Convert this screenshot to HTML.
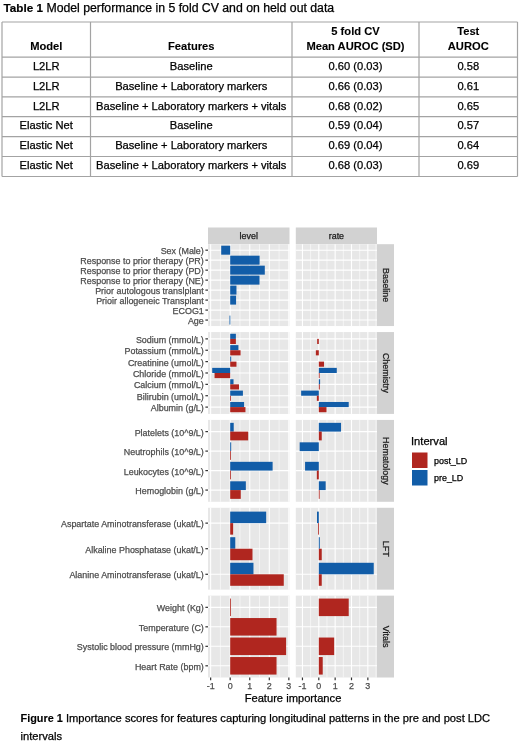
<!DOCTYPE html>
<html><head><meta charset="utf-8"><title>Table 1 and Figure 1</title>
<style>
html,body{margin:0;padding:0;background:#fff;}
body{width:520px;height:742px;overflow:hidden;font-family:"Liberation Sans", sans-serif;}
svg{display:block;font-family:"Liberation Sans", sans-serif;}
</style></head><body>
<svg width="520" height="742" viewBox="0 0 520 742" style="will-change:transform">
<rect x="0" y="0" width="520" height="742" fill="#fff"/>
<text x="3.60" y="12.30" font-size="12.28" fill="#000" stroke="#000" stroke-width="0.25" text-anchor="start"><tspan font-weight="bold" font-size="11.7" stroke-width="0.2">Table 1</tspan> Model performance in 5 fold CV and on held out data</text>
<line x1="2.00" y1="22.00" x2="2.00" y2="176.50" stroke="#A3A3A3" stroke-width="1.2"/>
<line x1="90.50" y1="22.00" x2="90.50" y2="176.50" stroke="#A3A3A3" stroke-width="1.2"/>
<line x1="292.00" y1="22.00" x2="292.00" y2="176.50" stroke="#A3A3A3" stroke-width="1.2"/>
<line x1="419.00" y1="22.00" x2="419.00" y2="176.50" stroke="#A3A3A3" stroke-width="1.2"/>
<line x1="517.50" y1="22.00" x2="517.50" y2="176.50" stroke="#A3A3A3" stroke-width="1.2"/>
<line x1="2.00" y1="22.00" x2="517.50" y2="22.00" stroke="#A3A3A3" stroke-width="1.2"/>
<line x1="2.00" y1="57.20" x2="517.50" y2="57.20" stroke="#A3A3A3" stroke-width="1.2"/>
<line x1="2.00" y1="77.20" x2="517.50" y2="77.20" stroke="#A3A3A3" stroke-width="1.2"/>
<line x1="2.00" y1="96.90" x2="517.50" y2="96.90" stroke="#A3A3A3" stroke-width="1.2"/>
<line x1="2.00" y1="116.70" x2="517.50" y2="116.70" stroke="#A3A3A3" stroke-width="1.2"/>
<line x1="2.00" y1="136.60" x2="517.50" y2="136.60" stroke="#A3A3A3" stroke-width="1.2"/>
<line x1="2.00" y1="156.50" x2="517.50" y2="156.50" stroke="#A3A3A3" stroke-width="1.2"/>
<line x1="2.00" y1="176.50" x2="517.50" y2="176.50" stroke="#A3A3A3" stroke-width="1.2"/>
<text x="46.25" y="49.80" font-size="11.17" fill="#000" stroke="#000" stroke-width="0.1" text-anchor="middle" font-weight="bold">Model</text>
<text x="191.25" y="49.80" font-size="11.17" fill="#000" stroke="#000" stroke-width="0.1" text-anchor="middle" font-weight="bold">Features</text>
<text x="355.50" y="34.60" font-size="11.17" fill="#000" stroke="#000" stroke-width="0.1" text-anchor="middle" font-weight="bold">5 fold CV</text>
<text x="355.50" y="49.80" font-size="11.17" fill="#000" stroke="#000" stroke-width="0.1" text-anchor="middle" font-weight="bold">Mean AUROC (SD)</text>
<text x="468.25" y="34.60" font-size="11.17" fill="#000" stroke="#000" stroke-width="0.1" text-anchor="middle" font-weight="bold">Test</text>
<text x="468.25" y="49.80" font-size="11.17" fill="#000" stroke="#000" stroke-width="0.1" text-anchor="middle" font-weight="bold">AUROC</text>
<text x="46.25" y="69.80" font-size="11.17" fill="#000" stroke="#000" stroke-width="0.25" text-anchor="middle">L2LR</text>
<text x="191.25" y="69.80" font-size="11.17" fill="#000" stroke="#000" stroke-width="0.25" text-anchor="middle">Baseline</text>
<text x="355.50" y="69.80" font-size="11.17" fill="#000" stroke="#000" stroke-width="0.25" text-anchor="middle">0.60 (0.03)</text>
<text x="468.25" y="69.80" font-size="11.17" fill="#000" stroke="#000" stroke-width="0.25" text-anchor="middle">0.58</text>
<text x="46.25" y="89.80" font-size="11.17" fill="#000" stroke="#000" stroke-width="0.25" text-anchor="middle">L2LR</text>
<text x="191.25" y="89.80" font-size="11.17" fill="#000" stroke="#000" stroke-width="0.25" text-anchor="middle">Baseline + Laboratory markers</text>
<text x="355.50" y="89.80" font-size="11.17" fill="#000" stroke="#000" stroke-width="0.25" text-anchor="middle">0.66 (0.03)</text>
<text x="468.25" y="89.80" font-size="11.17" fill="#000" stroke="#000" stroke-width="0.25" text-anchor="middle">0.61</text>
<text x="46.25" y="109.50" font-size="11.17" fill="#000" stroke="#000" stroke-width="0.25" text-anchor="middle">L2LR</text>
<text x="191.25" y="109.50" font-size="11.17" fill="#000" stroke="#000" stroke-width="0.25" text-anchor="middle">Baseline + Laboratory markers + vitals</text>
<text x="355.50" y="109.50" font-size="11.17" fill="#000" stroke="#000" stroke-width="0.25" text-anchor="middle">0.68 (0.02)</text>
<text x="468.25" y="109.50" font-size="11.17" fill="#000" stroke="#000" stroke-width="0.25" text-anchor="middle">0.65</text>
<text x="46.25" y="129.30" font-size="11.17" fill="#000" stroke="#000" stroke-width="0.25" text-anchor="middle">Elastic Net</text>
<text x="191.25" y="129.30" font-size="11.17" fill="#000" stroke="#000" stroke-width="0.25" text-anchor="middle">Baseline</text>
<text x="355.50" y="129.30" font-size="11.17" fill="#000" stroke="#000" stroke-width="0.25" text-anchor="middle">0.59 (0.04)</text>
<text x="468.25" y="129.30" font-size="11.17" fill="#000" stroke="#000" stroke-width="0.25" text-anchor="middle">0.57</text>
<text x="46.25" y="149.20" font-size="11.17" fill="#000" stroke="#000" stroke-width="0.25" text-anchor="middle">Elastic Net</text>
<text x="191.25" y="149.20" font-size="11.17" fill="#000" stroke="#000" stroke-width="0.25" text-anchor="middle">Baseline + Laboratory markers</text>
<text x="355.50" y="149.20" font-size="11.17" fill="#000" stroke="#000" stroke-width="0.25" text-anchor="middle">0.69 (0.04)</text>
<text x="468.25" y="149.20" font-size="11.17" fill="#000" stroke="#000" stroke-width="0.25" text-anchor="middle">0.64</text>
<text x="46.25" y="169.10" font-size="11.17" fill="#000" stroke="#000" stroke-width="0.25" text-anchor="middle">Elastic Net</text>
<text x="191.25" y="169.10" font-size="11.17" fill="#000" stroke="#000" stroke-width="0.25" text-anchor="middle">Baseline + Laboratory markers + vitals</text>
<text x="355.50" y="169.10" font-size="11.17" fill="#000" stroke="#000" stroke-width="0.25" text-anchor="middle">0.68 (0.03)</text>
<text x="468.25" y="169.10" font-size="11.17" fill="#000" stroke="#000" stroke-width="0.25" text-anchor="middle">0.69</text>
<rect x="208.00" y="244.20" width="81.50" height="81.86" fill="#E7E7E7"/>
<line x1="220.42" y1="244.20" x2="220.42" y2="326.06" stroke="#FFFFFF" stroke-width="0.55"/>
<line x1="239.97" y1="244.20" x2="239.97" y2="326.06" stroke="#FFFFFF" stroke-width="0.55"/>
<line x1="259.52" y1="244.20" x2="259.52" y2="326.06" stroke="#FFFFFF" stroke-width="0.55"/>
<line x1="279.07" y1="244.20" x2="279.07" y2="326.06" stroke="#FFFFFF" stroke-width="0.55"/>
<line x1="210.65" y1="244.20" x2="210.65" y2="326.06" stroke="#FFFFFF" stroke-width="1.1"/>
<line x1="230.20" y1="244.20" x2="230.20" y2="326.06" stroke="#FFFFFF" stroke-width="1.1"/>
<line x1="249.75" y1="244.20" x2="249.75" y2="326.06" stroke="#FFFFFF" stroke-width="1.1"/>
<line x1="269.30" y1="244.20" x2="269.30" y2="326.06" stroke="#FFFFFF" stroke-width="1.1"/>
<line x1="288.85" y1="244.20" x2="288.85" y2="326.06" stroke="#FFFFFF" stroke-width="1.1"/>
<line x1="208.00" y1="250.19" x2="289.50" y2="250.19" stroke="#FFFFFF" stroke-width="1.1"/>
<line x1="208.00" y1="260.17" x2="289.50" y2="260.17" stroke="#FFFFFF" stroke-width="1.1"/>
<line x1="208.00" y1="270.16" x2="289.50" y2="270.16" stroke="#FFFFFF" stroke-width="1.1"/>
<line x1="208.00" y1="280.14" x2="289.50" y2="280.14" stroke="#FFFFFF" stroke-width="1.1"/>
<line x1="208.00" y1="290.12" x2="289.50" y2="290.12" stroke="#FFFFFF" stroke-width="1.1"/>
<line x1="208.00" y1="300.10" x2="289.50" y2="300.10" stroke="#FFFFFF" stroke-width="1.1"/>
<line x1="208.00" y1="310.09" x2="289.50" y2="310.09" stroke="#FFFFFF" stroke-width="1.1"/>
<line x1="208.00" y1="320.07" x2="289.50" y2="320.07" stroke="#FFFFFF" stroke-width="1.1"/>
<rect x="221.21" y="245.70" width="8.99" height="8.98" fill="#125DA8"/>
<rect x="230.20" y="255.68" width="29.40" height="8.98" fill="#125DA8"/>
<rect x="230.20" y="265.66" width="34.60" height="8.98" fill="#125DA8"/>
<rect x="230.20" y="275.65" width="29.32" height="8.98" fill="#125DA8"/>
<rect x="230.20" y="285.63" width="6.26" height="8.98" fill="#125DA8"/>
<rect x="230.20" y="295.61" width="5.87" height="8.98" fill="#125DA8"/>
<rect x="229.51" y="315.58" width="0.80" height="8.98" fill="#125DA8"/>
<rect x="295.80" y="244.20" width="81.20" height="81.86" fill="#E7E7E7"/>
<line x1="310.62" y1="244.20" x2="310.62" y2="326.06" stroke="#FFFFFF" stroke-width="0.55"/>
<line x1="326.98" y1="244.20" x2="326.98" y2="326.06" stroke="#FFFFFF" stroke-width="0.55"/>
<line x1="343.32" y1="244.20" x2="343.32" y2="326.06" stroke="#FFFFFF" stroke-width="0.55"/>
<line x1="359.68" y1="244.20" x2="359.68" y2="326.06" stroke="#FFFFFF" stroke-width="0.55"/>
<line x1="376.03" y1="244.20" x2="376.03" y2="326.06" stroke="#FFFFFF" stroke-width="0.55"/>
<line x1="302.45" y1="244.20" x2="302.45" y2="326.06" stroke="#FFFFFF" stroke-width="1.1"/>
<line x1="318.80" y1="244.20" x2="318.80" y2="326.06" stroke="#FFFFFF" stroke-width="1.1"/>
<line x1="335.15" y1="244.20" x2="335.15" y2="326.06" stroke="#FFFFFF" stroke-width="1.1"/>
<line x1="351.50" y1="244.20" x2="351.50" y2="326.06" stroke="#FFFFFF" stroke-width="1.1"/>
<line x1="367.85" y1="244.20" x2="367.85" y2="326.06" stroke="#FFFFFF" stroke-width="1.1"/>
<line x1="295.80" y1="250.19" x2="377.00" y2="250.19" stroke="#FFFFFF" stroke-width="1.1"/>
<line x1="295.80" y1="260.17" x2="377.00" y2="260.17" stroke="#FFFFFF" stroke-width="1.1"/>
<line x1="295.80" y1="270.16" x2="377.00" y2="270.16" stroke="#FFFFFF" stroke-width="1.1"/>
<line x1="295.80" y1="280.14" x2="377.00" y2="280.14" stroke="#FFFFFF" stroke-width="1.1"/>
<line x1="295.80" y1="290.12" x2="377.00" y2="290.12" stroke="#FFFFFF" stroke-width="1.1"/>
<line x1="295.80" y1="300.10" x2="377.00" y2="300.10" stroke="#FFFFFF" stroke-width="1.1"/>
<line x1="295.80" y1="310.09" x2="377.00" y2="310.09" stroke="#FFFFFF" stroke-width="1.1"/>
<line x1="295.80" y1="320.07" x2="377.00" y2="320.07" stroke="#FFFFFF" stroke-width="1.1"/>
<line x1="205.40" y1="250.19" x2="208.00" y2="250.19" stroke="#333333" stroke-width="1.2"/>
<text x="203.80" y="254.09" font-size="8.93" fill="#4D4D4D" stroke="#4D4D4D" stroke-width="0.25" text-anchor="end">Sex (Male)</text>
<line x1="205.40" y1="260.17" x2="208.00" y2="260.17" stroke="#333333" stroke-width="1.2"/>
<text x="203.80" y="264.07" font-size="8.93" fill="#4D4D4D" stroke="#4D4D4D" stroke-width="0.25" text-anchor="end">Response to prior therapy (PR)</text>
<line x1="205.40" y1="270.16" x2="208.00" y2="270.16" stroke="#333333" stroke-width="1.2"/>
<text x="203.80" y="274.06" font-size="8.93" fill="#4D4D4D" stroke="#4D4D4D" stroke-width="0.25" text-anchor="end">Response to prior therapy (PD)</text>
<line x1="205.40" y1="280.14" x2="208.00" y2="280.14" stroke="#333333" stroke-width="1.2"/>
<text x="203.80" y="284.04" font-size="8.93" fill="#4D4D4D" stroke="#4D4D4D" stroke-width="0.25" text-anchor="end">Response to prior therapy (NE)</text>
<line x1="205.40" y1="290.12" x2="208.00" y2="290.12" stroke="#333333" stroke-width="1.2"/>
<text x="203.80" y="294.02" font-size="8.93" fill="#4D4D4D" stroke="#4D4D4D" stroke-width="0.25" text-anchor="end">Prior autologous translplant</text>
<line x1="205.40" y1="300.10" x2="208.00" y2="300.10" stroke="#333333" stroke-width="1.2"/>
<text x="203.80" y="304.00" font-size="8.93" fill="#4D4D4D" stroke="#4D4D4D" stroke-width="0.25" text-anchor="end">Prioir allogeneic Transplant</text>
<line x1="205.40" y1="310.09" x2="208.00" y2="310.09" stroke="#333333" stroke-width="1.2"/>
<text x="203.80" y="313.99" font-size="8.93" fill="#4D4D4D" stroke="#4D4D4D" stroke-width="0.25" text-anchor="end">ECOG1</text>
<line x1="205.40" y1="320.07" x2="208.00" y2="320.07" stroke="#333333" stroke-width="1.2"/>
<text x="203.80" y="323.97" font-size="8.93" fill="#4D4D4D" stroke="#4D4D4D" stroke-width="0.25" text-anchor="end">Age</text>
<rect x="377.00" y="244.20" width="17.00" height="81.86" fill="#D2D2D2"/>
<text x="0" y="0" font-size="8.93" fill="#1A1A1A" stroke="#1A1A1A" stroke-width="0.25" text-anchor="middle" transform="translate(382.90,285.13) rotate(90)">Baseline</text>
<rect x="208.00" y="332.06" width="81.50" height="81.86" fill="#E7E7E7"/>
<line x1="220.42" y1="332.06" x2="220.42" y2="413.92" stroke="#FFFFFF" stroke-width="0.55"/>
<line x1="239.97" y1="332.06" x2="239.97" y2="413.92" stroke="#FFFFFF" stroke-width="0.55"/>
<line x1="259.52" y1="332.06" x2="259.52" y2="413.92" stroke="#FFFFFF" stroke-width="0.55"/>
<line x1="279.07" y1="332.06" x2="279.07" y2="413.92" stroke="#FFFFFF" stroke-width="0.55"/>
<line x1="210.65" y1="332.06" x2="210.65" y2="413.92" stroke="#FFFFFF" stroke-width="1.1"/>
<line x1="230.20" y1="332.06" x2="230.20" y2="413.92" stroke="#FFFFFF" stroke-width="1.1"/>
<line x1="249.75" y1="332.06" x2="249.75" y2="413.92" stroke="#FFFFFF" stroke-width="1.1"/>
<line x1="269.30" y1="332.06" x2="269.30" y2="413.92" stroke="#FFFFFF" stroke-width="1.1"/>
<line x1="288.85" y1="332.06" x2="288.85" y2="413.92" stroke="#FFFFFF" stroke-width="1.1"/>
<line x1="208.00" y1="338.88" x2="289.50" y2="338.88" stroke="#FFFFFF" stroke-width="1.1"/>
<line x1="208.00" y1="350.25" x2="289.50" y2="350.25" stroke="#FFFFFF" stroke-width="1.1"/>
<line x1="208.00" y1="361.62" x2="289.50" y2="361.62" stroke="#FFFFFF" stroke-width="1.1"/>
<line x1="208.00" y1="372.99" x2="289.50" y2="372.99" stroke="#FFFFFF" stroke-width="1.1"/>
<line x1="208.00" y1="384.36" x2="289.50" y2="384.36" stroke="#FFFFFF" stroke-width="1.1"/>
<line x1="208.00" y1="395.73" x2="289.50" y2="395.73" stroke="#FFFFFF" stroke-width="1.1"/>
<line x1="208.00" y1="407.10" x2="289.50" y2="407.10" stroke="#FFFFFF" stroke-width="1.1"/>
<rect x="230.20" y="333.77" width="5.67" height="5.12" fill="#125DA8"/>
<rect x="230.20" y="338.88" width="5.67" height="5.12" fill="#B0261F"/>
<rect x="230.20" y="345.13" width="8.21" height="5.12" fill="#125DA8"/>
<rect x="230.20" y="350.25" width="10.36" height="5.12" fill="#B0261F"/>
<rect x="230.20" y="356.50" width="0.98" height="5.12" fill="#125DA8"/>
<rect x="230.20" y="361.62" width="6.26" height="5.12" fill="#B0261F"/>
<rect x="212.21" y="367.87" width="17.99" height="5.12" fill="#125DA8"/>
<rect x="214.56" y="372.99" width="15.64" height="5.12" fill="#B0261F"/>
<rect x="230.20" y="379.24" width="3.32" height="5.12" fill="#125DA8"/>
<rect x="230.20" y="384.36" width="8.80" height="5.12" fill="#B0261F"/>
<rect x="230.20" y="390.61" width="12.71" height="5.12" fill="#125DA8"/>
<rect x="230.09" y="395.73" width="0.80" height="5.12" fill="#B0261F"/>
<rect x="230.20" y="401.98" width="13.88" height="5.12" fill="#125DA8"/>
<rect x="230.20" y="407.10" width="15.25" height="5.12" fill="#B0261F"/>
<rect x="295.80" y="332.06" width="81.20" height="81.86" fill="#E7E7E7"/>
<line x1="310.62" y1="332.06" x2="310.62" y2="413.92" stroke="#FFFFFF" stroke-width="0.55"/>
<line x1="326.98" y1="332.06" x2="326.98" y2="413.92" stroke="#FFFFFF" stroke-width="0.55"/>
<line x1="343.32" y1="332.06" x2="343.32" y2="413.92" stroke="#FFFFFF" stroke-width="0.55"/>
<line x1="359.68" y1="332.06" x2="359.68" y2="413.92" stroke="#FFFFFF" stroke-width="0.55"/>
<line x1="376.03" y1="332.06" x2="376.03" y2="413.92" stroke="#FFFFFF" stroke-width="0.55"/>
<line x1="302.45" y1="332.06" x2="302.45" y2="413.92" stroke="#FFFFFF" stroke-width="1.1"/>
<line x1="318.80" y1="332.06" x2="318.80" y2="413.92" stroke="#FFFFFF" stroke-width="1.1"/>
<line x1="335.15" y1="332.06" x2="335.15" y2="413.92" stroke="#FFFFFF" stroke-width="1.1"/>
<line x1="351.50" y1="332.06" x2="351.50" y2="413.92" stroke="#FFFFFF" stroke-width="1.1"/>
<line x1="367.85" y1="332.06" x2="367.85" y2="413.92" stroke="#FFFFFF" stroke-width="1.1"/>
<line x1="295.80" y1="338.88" x2="377.00" y2="338.88" stroke="#FFFFFF" stroke-width="1.1"/>
<line x1="295.80" y1="350.25" x2="377.00" y2="350.25" stroke="#FFFFFF" stroke-width="1.1"/>
<line x1="295.80" y1="361.62" x2="377.00" y2="361.62" stroke="#FFFFFF" stroke-width="1.1"/>
<line x1="295.80" y1="372.99" x2="377.00" y2="372.99" stroke="#FFFFFF" stroke-width="1.1"/>
<line x1="295.80" y1="384.36" x2="377.00" y2="384.36" stroke="#FFFFFF" stroke-width="1.1"/>
<line x1="295.80" y1="395.73" x2="377.00" y2="395.73" stroke="#FFFFFF" stroke-width="1.1"/>
<line x1="295.80" y1="407.10" x2="377.00" y2="407.10" stroke="#FFFFFF" stroke-width="1.1"/>
<rect x="317.17" y="338.88" width="1.63" height="5.12" fill="#B0261F"/>
<rect x="315.86" y="350.25" width="2.94" height="5.12" fill="#B0261F"/>
<rect x="318.80" y="361.62" width="5.23" height="5.12" fill="#B0261F"/>
<rect x="318.80" y="367.87" width="17.99" height="5.12" fill="#125DA8"/>
<rect x="318.80" y="372.99" width="0.82" height="5.12" fill="#B0261F"/>
<rect x="318.80" y="379.24" width="1.31" height="5.12" fill="#125DA8"/>
<rect x="318.80" y="384.36" width="0.98" height="5.12" fill="#B0261F"/>
<rect x="301.14" y="390.61" width="17.66" height="5.12" fill="#125DA8"/>
<rect x="316.84" y="395.73" width="1.96" height="5.12" fill="#B0261F"/>
<rect x="318.80" y="401.98" width="29.92" height="5.12" fill="#125DA8"/>
<rect x="318.80" y="407.10" width="7.68" height="5.12" fill="#B0261F"/>
<line x1="205.40" y1="338.88" x2="208.00" y2="338.88" stroke="#333333" stroke-width="1.2"/>
<text x="203.80" y="342.78" font-size="8.93" fill="#4D4D4D" stroke="#4D4D4D" stroke-width="0.25" text-anchor="end">Sodium (mmol/L)</text>
<line x1="205.40" y1="350.25" x2="208.00" y2="350.25" stroke="#333333" stroke-width="1.2"/>
<text x="203.80" y="354.15" font-size="8.93" fill="#4D4D4D" stroke="#4D4D4D" stroke-width="0.25" text-anchor="end">Potassium (mmol/L)</text>
<line x1="205.40" y1="361.62" x2="208.00" y2="361.62" stroke="#333333" stroke-width="1.2"/>
<text x="203.80" y="365.52" font-size="8.93" fill="#4D4D4D" stroke="#4D4D4D" stroke-width="0.25" text-anchor="end">Creatinine (umol/L)</text>
<line x1="205.40" y1="372.99" x2="208.00" y2="372.99" stroke="#333333" stroke-width="1.2"/>
<text x="203.80" y="376.89" font-size="8.93" fill="#4D4D4D" stroke="#4D4D4D" stroke-width="0.25" text-anchor="end">Chloride (mmol/L)</text>
<line x1="205.40" y1="384.36" x2="208.00" y2="384.36" stroke="#333333" stroke-width="1.2"/>
<text x="203.80" y="388.26" font-size="8.93" fill="#4D4D4D" stroke="#4D4D4D" stroke-width="0.25" text-anchor="end">Calcium (mmol/L)</text>
<line x1="205.40" y1="395.73" x2="208.00" y2="395.73" stroke="#333333" stroke-width="1.2"/>
<text x="203.80" y="399.63" font-size="8.93" fill="#4D4D4D" stroke="#4D4D4D" stroke-width="0.25" text-anchor="end">Bilirubin (umol/L)</text>
<line x1="205.40" y1="407.10" x2="208.00" y2="407.10" stroke="#333333" stroke-width="1.2"/>
<text x="203.80" y="411.00" font-size="8.93" fill="#4D4D4D" stroke="#4D4D4D" stroke-width="0.25" text-anchor="end">Albumin (g/L)</text>
<rect x="377.00" y="332.06" width="17.00" height="81.86" fill="#D2D2D2"/>
<text x="0" y="0" font-size="8.93" fill="#1A1A1A" stroke="#1A1A1A" stroke-width="0.25" text-anchor="middle" transform="translate(382.90,372.99) rotate(90)">Chemistry</text>
<rect x="208.00" y="419.92" width="81.50" height="81.86" fill="#E7E7E7"/>
<line x1="220.42" y1="419.92" x2="220.42" y2="501.78" stroke="#FFFFFF" stroke-width="0.55"/>
<line x1="239.97" y1="419.92" x2="239.97" y2="501.78" stroke="#FFFFFF" stroke-width="0.55"/>
<line x1="259.52" y1="419.92" x2="259.52" y2="501.78" stroke="#FFFFFF" stroke-width="0.55"/>
<line x1="279.07" y1="419.92" x2="279.07" y2="501.78" stroke="#FFFFFF" stroke-width="0.55"/>
<line x1="210.65" y1="419.92" x2="210.65" y2="501.78" stroke="#FFFFFF" stroke-width="1.1"/>
<line x1="230.20" y1="419.92" x2="230.20" y2="501.78" stroke="#FFFFFF" stroke-width="1.1"/>
<line x1="249.75" y1="419.92" x2="249.75" y2="501.78" stroke="#FFFFFF" stroke-width="1.1"/>
<line x1="269.30" y1="419.92" x2="269.30" y2="501.78" stroke="#FFFFFF" stroke-width="1.1"/>
<line x1="288.85" y1="419.92" x2="288.85" y2="501.78" stroke="#FFFFFF" stroke-width="1.1"/>
<line x1="208.00" y1="431.61" x2="289.50" y2="431.61" stroke="#FFFFFF" stroke-width="1.1"/>
<line x1="208.00" y1="451.10" x2="289.50" y2="451.10" stroke="#FFFFFF" stroke-width="1.1"/>
<line x1="208.00" y1="470.60" x2="289.50" y2="470.60" stroke="#FFFFFF" stroke-width="1.1"/>
<line x1="208.00" y1="490.09" x2="289.50" y2="490.09" stroke="#FFFFFF" stroke-width="1.1"/>
<rect x="230.20" y="422.84" width="3.52" height="8.77" fill="#125DA8"/>
<rect x="230.20" y="431.61" width="17.99" height="8.77" fill="#B0261F"/>
<rect x="230.20" y="442.33" width="0.98" height="8.77" fill="#125DA8"/>
<rect x="230.00" y="451.10" width="0.80" height="8.77" fill="#B0261F"/>
<rect x="230.20" y="461.82" width="42.42" height="8.77" fill="#125DA8"/>
<rect x="230.00" y="470.60" width="0.80" height="8.77" fill="#B0261F"/>
<rect x="230.20" y="481.31" width="15.64" height="8.77" fill="#125DA8"/>
<rect x="230.20" y="490.09" width="10.56" height="8.77" fill="#B0261F"/>
<rect x="295.80" y="419.92" width="81.20" height="81.86" fill="#E7E7E7"/>
<line x1="310.62" y1="419.92" x2="310.62" y2="501.78" stroke="#FFFFFF" stroke-width="0.55"/>
<line x1="326.98" y1="419.92" x2="326.98" y2="501.78" stroke="#FFFFFF" stroke-width="0.55"/>
<line x1="343.32" y1="419.92" x2="343.32" y2="501.78" stroke="#FFFFFF" stroke-width="0.55"/>
<line x1="359.68" y1="419.92" x2="359.68" y2="501.78" stroke="#FFFFFF" stroke-width="0.55"/>
<line x1="376.03" y1="419.92" x2="376.03" y2="501.78" stroke="#FFFFFF" stroke-width="0.55"/>
<line x1="302.45" y1="419.92" x2="302.45" y2="501.78" stroke="#FFFFFF" stroke-width="1.1"/>
<line x1="318.80" y1="419.92" x2="318.80" y2="501.78" stroke="#FFFFFF" stroke-width="1.1"/>
<line x1="335.15" y1="419.92" x2="335.15" y2="501.78" stroke="#FFFFFF" stroke-width="1.1"/>
<line x1="351.50" y1="419.92" x2="351.50" y2="501.78" stroke="#FFFFFF" stroke-width="1.1"/>
<line x1="367.85" y1="419.92" x2="367.85" y2="501.78" stroke="#FFFFFF" stroke-width="1.1"/>
<line x1="295.80" y1="431.61" x2="377.00" y2="431.61" stroke="#FFFFFF" stroke-width="1.1"/>
<line x1="295.80" y1="451.10" x2="377.00" y2="451.10" stroke="#FFFFFF" stroke-width="1.1"/>
<line x1="295.80" y1="470.60" x2="377.00" y2="470.60" stroke="#FFFFFF" stroke-width="1.1"/>
<line x1="295.80" y1="490.09" x2="377.00" y2="490.09" stroke="#FFFFFF" stroke-width="1.1"/>
<rect x="318.80" y="422.84" width="22.24" height="8.77" fill="#125DA8"/>
<rect x="318.80" y="431.61" width="2.94" height="8.77" fill="#B0261F"/>
<rect x="299.67" y="442.33" width="19.13" height="8.77" fill="#125DA8"/>
<rect x="305.07" y="461.82" width="13.73" height="8.77" fill="#125DA8"/>
<rect x="316.84" y="470.60" width="1.96" height="8.77" fill="#B0261F"/>
<rect x="318.80" y="481.31" width="6.87" height="8.77" fill="#125DA8"/>
<rect x="318.80" y="490.09" width="0.82" height="8.77" fill="#B0261F"/>
<line x1="205.40" y1="431.61" x2="208.00" y2="431.61" stroke="#333333" stroke-width="1.2"/>
<text x="203.80" y="435.51" font-size="8.93" fill="#4D4D4D" stroke="#4D4D4D" stroke-width="0.25" text-anchor="end">Platelets (10^9/L)</text>
<line x1="205.40" y1="451.10" x2="208.00" y2="451.10" stroke="#333333" stroke-width="1.2"/>
<text x="203.80" y="455.00" font-size="8.93" fill="#4D4D4D" stroke="#4D4D4D" stroke-width="0.25" text-anchor="end">Neutrophils (10^9/L)</text>
<line x1="205.40" y1="470.60" x2="208.00" y2="470.60" stroke="#333333" stroke-width="1.2"/>
<text x="203.80" y="474.50" font-size="8.93" fill="#4D4D4D" stroke="#4D4D4D" stroke-width="0.25" text-anchor="end">Leukocytes (10^9/L)</text>
<line x1="205.40" y1="490.09" x2="208.00" y2="490.09" stroke="#333333" stroke-width="1.2"/>
<text x="203.80" y="493.99" font-size="8.93" fill="#4D4D4D" stroke="#4D4D4D" stroke-width="0.25" text-anchor="end">Hemoglobin (g/L)</text>
<rect x="377.00" y="419.92" width="17.00" height="81.86" fill="#D2D2D2"/>
<text x="0" y="0" font-size="8.93" fill="#1A1A1A" stroke="#1A1A1A" stroke-width="0.25" text-anchor="middle" transform="translate(382.90,460.85) rotate(90)">Hematology</text>
<rect x="208.00" y="507.78" width="81.50" height="81.86" fill="#E7E7E7"/>
<line x1="220.42" y1="507.78" x2="220.42" y2="589.64" stroke="#FFFFFF" stroke-width="0.55"/>
<line x1="239.97" y1="507.78" x2="239.97" y2="589.64" stroke="#FFFFFF" stroke-width="0.55"/>
<line x1="259.52" y1="507.78" x2="259.52" y2="589.64" stroke="#FFFFFF" stroke-width="0.55"/>
<line x1="279.07" y1="507.78" x2="279.07" y2="589.64" stroke="#FFFFFF" stroke-width="0.55"/>
<line x1="210.65" y1="507.78" x2="210.65" y2="589.64" stroke="#FFFFFF" stroke-width="1.1"/>
<line x1="230.20" y1="507.78" x2="230.20" y2="589.64" stroke="#FFFFFF" stroke-width="1.1"/>
<line x1="249.75" y1="507.78" x2="249.75" y2="589.64" stroke="#FFFFFF" stroke-width="1.1"/>
<line x1="269.30" y1="507.78" x2="269.30" y2="589.64" stroke="#FFFFFF" stroke-width="1.1"/>
<line x1="288.85" y1="507.78" x2="288.85" y2="589.64" stroke="#FFFFFF" stroke-width="1.1"/>
<line x1="208.00" y1="523.13" x2="289.50" y2="523.13" stroke="#FFFFFF" stroke-width="1.1"/>
<line x1="208.00" y1="548.71" x2="289.50" y2="548.71" stroke="#FFFFFF" stroke-width="1.1"/>
<line x1="208.00" y1="574.29" x2="289.50" y2="574.29" stroke="#FFFFFF" stroke-width="1.1"/>
<rect x="230.20" y="511.62" width="35.97" height="11.51" fill="#125DA8"/>
<rect x="230.20" y="523.13" width="2.93" height="11.51" fill="#B0261F"/>
<rect x="230.20" y="537.20" width="5.08" height="11.51" fill="#125DA8"/>
<rect x="230.20" y="548.71" width="22.29" height="11.51" fill="#B0261F"/>
<rect x="230.20" y="562.78" width="23.26" height="11.51" fill="#125DA8"/>
<rect x="230.20" y="574.29" width="53.57" height="11.51" fill="#B0261F"/>
<rect x="295.80" y="507.78" width="81.20" height="81.86" fill="#E7E7E7"/>
<line x1="310.62" y1="507.78" x2="310.62" y2="589.64" stroke="#FFFFFF" stroke-width="0.55"/>
<line x1="326.98" y1="507.78" x2="326.98" y2="589.64" stroke="#FFFFFF" stroke-width="0.55"/>
<line x1="343.32" y1="507.78" x2="343.32" y2="589.64" stroke="#FFFFFF" stroke-width="0.55"/>
<line x1="359.68" y1="507.78" x2="359.68" y2="589.64" stroke="#FFFFFF" stroke-width="0.55"/>
<line x1="376.03" y1="507.78" x2="376.03" y2="589.64" stroke="#FFFFFF" stroke-width="0.55"/>
<line x1="302.45" y1="507.78" x2="302.45" y2="589.64" stroke="#FFFFFF" stroke-width="1.1"/>
<line x1="318.80" y1="507.78" x2="318.80" y2="589.64" stroke="#FFFFFF" stroke-width="1.1"/>
<line x1="335.15" y1="507.78" x2="335.15" y2="589.64" stroke="#FFFFFF" stroke-width="1.1"/>
<line x1="351.50" y1="507.78" x2="351.50" y2="589.64" stroke="#FFFFFF" stroke-width="1.1"/>
<line x1="367.85" y1="507.78" x2="367.85" y2="589.64" stroke="#FFFFFF" stroke-width="1.1"/>
<line x1="295.80" y1="523.13" x2="377.00" y2="523.13" stroke="#FFFFFF" stroke-width="1.1"/>
<line x1="295.80" y1="548.71" x2="377.00" y2="548.71" stroke="#FFFFFF" stroke-width="1.1"/>
<line x1="295.80" y1="574.29" x2="377.00" y2="574.29" stroke="#FFFFFF" stroke-width="1.1"/>
<rect x="317.00" y="511.62" width="1.80" height="11.51" fill="#125DA8"/>
<rect x="318.07" y="523.13" width="0.80" height="11.51" fill="#B0261F"/>
<rect x="318.80" y="537.20" width="0.98" height="11.51" fill="#125DA8"/>
<rect x="318.80" y="548.71" width="2.94" height="11.51" fill="#B0261F"/>
<rect x="318.80" y="562.78" width="54.94" height="11.51" fill="#125DA8"/>
<rect x="318.80" y="574.29" width="2.94" height="11.51" fill="#B0261F"/>
<line x1="205.40" y1="523.13" x2="208.00" y2="523.13" stroke="#333333" stroke-width="1.2"/>
<text x="203.80" y="527.03" font-size="8.93" fill="#4D4D4D" stroke="#4D4D4D" stroke-width="0.25" text-anchor="end">Aspartate Aminotransferase (ukat/L)</text>
<line x1="205.40" y1="548.71" x2="208.00" y2="548.71" stroke="#333333" stroke-width="1.2"/>
<text x="203.80" y="552.61" font-size="8.93" fill="#4D4D4D" stroke="#4D4D4D" stroke-width="0.25" text-anchor="end">Alkaline Phosphatase (ukat/L)</text>
<line x1="205.40" y1="574.29" x2="208.00" y2="574.29" stroke="#333333" stroke-width="1.2"/>
<text x="203.80" y="578.19" font-size="8.93" fill="#4D4D4D" stroke="#4D4D4D" stroke-width="0.25" text-anchor="end">Alanine Aminotransferase (ukat/L)</text>
<rect x="377.00" y="507.78" width="17.00" height="81.86" fill="#D2D2D2"/>
<text x="0" y="0" font-size="8.93" fill="#1A1A1A" stroke="#1A1A1A" stroke-width="0.25" text-anchor="middle" transform="translate(382.90,548.71) rotate(90)">LFT</text>
<rect x="208.00" y="595.64" width="81.50" height="81.86" fill="#E7E7E7"/>
<line x1="220.42" y1="595.64" x2="220.42" y2="677.50" stroke="#FFFFFF" stroke-width="0.55"/>
<line x1="239.97" y1="595.64" x2="239.97" y2="677.50" stroke="#FFFFFF" stroke-width="0.55"/>
<line x1="259.52" y1="595.64" x2="259.52" y2="677.50" stroke="#FFFFFF" stroke-width="0.55"/>
<line x1="279.07" y1="595.64" x2="279.07" y2="677.50" stroke="#FFFFFF" stroke-width="0.55"/>
<line x1="210.65" y1="595.64" x2="210.65" y2="677.50" stroke="#FFFFFF" stroke-width="1.1"/>
<line x1="230.20" y1="595.64" x2="230.20" y2="677.50" stroke="#FFFFFF" stroke-width="1.1"/>
<line x1="249.75" y1="595.64" x2="249.75" y2="677.50" stroke="#FFFFFF" stroke-width="1.1"/>
<line x1="269.30" y1="595.64" x2="269.30" y2="677.50" stroke="#FFFFFF" stroke-width="1.1"/>
<line x1="288.85" y1="595.64" x2="288.85" y2="677.50" stroke="#FFFFFF" stroke-width="1.1"/>
<line x1="208.00" y1="607.33" x2="289.50" y2="607.33" stroke="#FFFFFF" stroke-width="1.1"/>
<line x1="208.00" y1="626.82" x2="289.50" y2="626.82" stroke="#FFFFFF" stroke-width="1.1"/>
<line x1="208.00" y1="646.32" x2="289.50" y2="646.32" stroke="#FFFFFF" stroke-width="1.1"/>
<line x1="208.00" y1="665.81" x2="289.50" y2="665.81" stroke="#FFFFFF" stroke-width="1.1"/>
<rect x="230.19" y="598.56" width="0.80" height="17.54" fill="#B0261F"/>
<rect x="230.20" y="618.05" width="46.33" height="17.54" fill="#B0261F"/>
<rect x="230.20" y="637.54" width="55.91" height="17.54" fill="#B0261F"/>
<rect x="230.20" y="657.04" width="46.33" height="17.54" fill="#B0261F"/>
<rect x="295.80" y="595.64" width="81.20" height="81.86" fill="#E7E7E7"/>
<line x1="310.62" y1="595.64" x2="310.62" y2="677.50" stroke="#FFFFFF" stroke-width="0.55"/>
<line x1="326.98" y1="595.64" x2="326.98" y2="677.50" stroke="#FFFFFF" stroke-width="0.55"/>
<line x1="343.32" y1="595.64" x2="343.32" y2="677.50" stroke="#FFFFFF" stroke-width="0.55"/>
<line x1="359.68" y1="595.64" x2="359.68" y2="677.50" stroke="#FFFFFF" stroke-width="0.55"/>
<line x1="376.03" y1="595.64" x2="376.03" y2="677.50" stroke="#FFFFFF" stroke-width="0.55"/>
<line x1="302.45" y1="595.64" x2="302.45" y2="677.50" stroke="#FFFFFF" stroke-width="1.1"/>
<line x1="318.80" y1="595.64" x2="318.80" y2="677.50" stroke="#FFFFFF" stroke-width="1.1"/>
<line x1="335.15" y1="595.64" x2="335.15" y2="677.50" stroke="#FFFFFF" stroke-width="1.1"/>
<line x1="351.50" y1="595.64" x2="351.50" y2="677.50" stroke="#FFFFFF" stroke-width="1.1"/>
<line x1="367.85" y1="595.64" x2="367.85" y2="677.50" stroke="#FFFFFF" stroke-width="1.1"/>
<line x1="295.80" y1="607.33" x2="377.00" y2="607.33" stroke="#FFFFFF" stroke-width="1.1"/>
<line x1="295.80" y1="626.82" x2="377.00" y2="626.82" stroke="#FFFFFF" stroke-width="1.1"/>
<line x1="295.80" y1="646.32" x2="377.00" y2="646.32" stroke="#FFFFFF" stroke-width="1.1"/>
<line x1="295.80" y1="665.81" x2="377.00" y2="665.81" stroke="#FFFFFF" stroke-width="1.1"/>
<rect x="318.80" y="598.56" width="29.92" height="17.54" fill="#B0261F"/>
<rect x="318.80" y="637.54" width="15.37" height="17.54" fill="#B0261F"/>
<rect x="318.80" y="657.04" width="3.92" height="17.54" fill="#B0261F"/>
<line x1="205.40" y1="607.33" x2="208.00" y2="607.33" stroke="#333333" stroke-width="1.2"/>
<text x="203.80" y="611.23" font-size="8.93" fill="#4D4D4D" stroke="#4D4D4D" stroke-width="0.25" text-anchor="end">Weight (Kg)</text>
<line x1="205.40" y1="626.82" x2="208.00" y2="626.82" stroke="#333333" stroke-width="1.2"/>
<text x="203.80" y="630.72" font-size="8.93" fill="#4D4D4D" stroke="#4D4D4D" stroke-width="0.25" text-anchor="end">Temperature (C)</text>
<line x1="205.40" y1="646.32" x2="208.00" y2="646.32" stroke="#333333" stroke-width="1.2"/>
<text x="203.80" y="650.22" font-size="8.93" fill="#4D4D4D" stroke="#4D4D4D" stroke-width="0.25" text-anchor="end">Systolic blood pressure (mmHg)</text>
<line x1="205.40" y1="665.81" x2="208.00" y2="665.81" stroke="#333333" stroke-width="1.2"/>
<text x="203.80" y="669.71" font-size="8.93" fill="#4D4D4D" stroke="#4D4D4D" stroke-width="0.25" text-anchor="end">Heart Rate (bpm)</text>
<rect x="377.00" y="595.64" width="17.00" height="81.86" fill="#D2D2D2"/>
<text x="0" y="0" font-size="8.93" fill="#1A1A1A" stroke="#1A1A1A" stroke-width="0.25" text-anchor="middle" transform="translate(382.90,636.57) rotate(90)">Vitals</text>
<rect x="208.00" y="227.50" width="81.50" height="16.50" fill="#D2D2D2"/>
<text x="248.75" y="238.80" font-size="8.93" fill="#1A1A1A" stroke="#1A1A1A" stroke-width="0.25" text-anchor="middle">level</text>
<rect x="295.80" y="227.50" width="81.20" height="16.50" fill="#D2D2D2"/>
<text x="336.40" y="238.80" font-size="8.93" fill="#1A1A1A" stroke="#1A1A1A" stroke-width="0.25" text-anchor="middle">rate</text>
<line x1="210.65" y1="677.50" x2="210.65" y2="680.25" stroke="#333333" stroke-width="1.2"/>
<text x="210.65" y="689.30" font-size="8.93" fill="#4D4D4D" stroke="#4D4D4D" stroke-width="0.25" text-anchor="middle">-1</text>
<line x1="230.20" y1="677.50" x2="230.20" y2="680.25" stroke="#333333" stroke-width="1.2"/>
<text x="230.20" y="689.30" font-size="8.93" fill="#4D4D4D" stroke="#4D4D4D" stroke-width="0.25" text-anchor="middle">0</text>
<line x1="249.75" y1="677.50" x2="249.75" y2="680.25" stroke="#333333" stroke-width="1.2"/>
<text x="249.75" y="689.30" font-size="8.93" fill="#4D4D4D" stroke="#4D4D4D" stroke-width="0.25" text-anchor="middle">1</text>
<line x1="269.30" y1="677.50" x2="269.30" y2="680.25" stroke="#333333" stroke-width="1.2"/>
<text x="269.30" y="689.30" font-size="8.93" fill="#4D4D4D" stroke="#4D4D4D" stroke-width="0.25" text-anchor="middle">2</text>
<line x1="288.85" y1="677.50" x2="288.85" y2="680.25" stroke="#333333" stroke-width="1.2"/>
<text x="288.85" y="689.30" font-size="8.93" fill="#4D4D4D" stroke="#4D4D4D" stroke-width="0.25" text-anchor="middle">3</text>
<line x1="302.45" y1="677.50" x2="302.45" y2="680.25" stroke="#333333" stroke-width="1.2"/>
<text x="302.45" y="689.30" font-size="8.93" fill="#4D4D4D" stroke="#4D4D4D" stroke-width="0.25" text-anchor="middle">-1</text>
<line x1="318.80" y1="677.50" x2="318.80" y2="680.25" stroke="#333333" stroke-width="1.2"/>
<text x="318.80" y="689.30" font-size="8.93" fill="#4D4D4D" stroke="#4D4D4D" stroke-width="0.25" text-anchor="middle">0</text>
<line x1="335.15" y1="677.50" x2="335.15" y2="680.25" stroke="#333333" stroke-width="1.2"/>
<text x="335.15" y="689.30" font-size="8.93" fill="#4D4D4D" stroke="#4D4D4D" stroke-width="0.25" text-anchor="middle">1</text>
<line x1="351.50" y1="677.50" x2="351.50" y2="680.25" stroke="#333333" stroke-width="1.2"/>
<text x="351.50" y="689.30" font-size="8.93" fill="#4D4D4D" stroke="#4D4D4D" stroke-width="0.25" text-anchor="middle">2</text>
<line x1="367.85" y1="677.50" x2="367.85" y2="680.25" stroke="#333333" stroke-width="1.2"/>
<text x="367.85" y="689.30" font-size="8.93" fill="#4D4D4D" stroke="#4D4D4D" stroke-width="0.25" text-anchor="middle">3</text>
<text x="293.00" y="702.20" font-size="11.17" fill="#000" stroke="#000" stroke-width="0.25" text-anchor="middle">Feature importance</text>
<text x="411.00" y="445.00" font-size="11.17" fill="#000" stroke="#000" stroke-width="0.25" text-anchor="start">Interval</text>
<rect x="412.00" y="452.50" width="15.50" height="15.50" fill="#B0261F"/>
<rect x="412.00" y="470.00" width="15.50" height="15.50" fill="#125DA8"/>
<text x="434.00" y="463.80" font-size="8.93" fill="#000" stroke="#000" stroke-width="0.25" text-anchor="start">post_LD</text>
<text x="434.00" y="481.20" font-size="8.93" fill="#000" stroke="#000" stroke-width="0.25" text-anchor="start">pre_LD</text>
<text x="20.50" y="721.60" font-size="11.17" fill="#000" stroke="#000" stroke-width="0.25" text-anchor="start"><tspan font-weight="bold" font-size="10.9" stroke-width="0.1">Figure 1</tspan> Importance scores for features capturing longitudinal patterns in the pre and post LDC</text>
<text x="20.50" y="740.30" font-size="11.17" fill="#000" stroke="#000" stroke-width="0.25" text-anchor="start">intervals</text>
</svg>
</body></html>
